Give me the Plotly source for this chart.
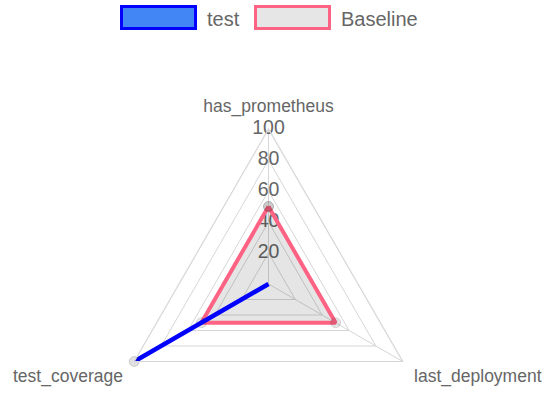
import plotly.graph_objects as go

# ---- data ----
categories = ["has_prometheus", "last_deployment", "test_coverage"]
test_values = [0, 0, 100]
baseline_values = [50, 50, 50]
series_names = ["test", "Baseline"]
tick_values = [20, 40, 60, 80, 100]
tick_labels = ["20", "40", "60", "80", "100"]

W, H = 548, 440
FONT = "Liberation Sans, Arial, Helvetica, sans-serif"
GRID = "#d6d6d6"
TEXT = "#666666"


def closed(seq):
    return list(seq) + [seq[0]]


def px(x, y):
    return x / W, 1 - y / H


fig = go.Figure()

# tick labels drawn on the top spoke (under data, as in the original)
fig.add_trace(go.Scatterpolar(
    r=tick_values, theta=[categories[0]] * len(tick_values),
    text=tick_labels, mode="text", textposition="middle center",
    textfont=dict(size=19.5, color=TEXT, family=FONT),
    hoverinfo="skip", showlegend=False, cliponaxis=False,
))

fig.add_trace(go.Scatterpolar(
    r=closed(baseline_values), theta=closed(categories),
    name=series_names[1], mode="lines+markers", fill="toself",
    fillcolor="rgba(0,0,0,0.1)",
    line=dict(color="rgb(255,99,132)", width=4),
    marker=dict(size=10, color="rgba(0,0,0,0.1)", line=dict(color="rgba(0,0,0,0.12)", width=1)),
    showlegend=False, cliponaxis=False,
))

fig.add_trace(go.Scatterpolar(
    r=closed(test_values), theta=closed(categories),
    name=series_names[0], mode="lines+markers", fill="toself",
    fillcolor="rgba(66,133,244,0.6)",
    line=dict(color="#0000ff", width=4.5),
    marker=dict(size=10, color="rgba(0,0,0,0.12)", line=dict(color="rgba(0,0,0,0.15)", width=1)),
    showlegend=False, cliponaxis=False,
))

# custom legend (large Chart.js style boxes)
legend_items = [
    (series_names[0], "rgb(66,133,244)", "#0000ff", 120, 197),
    (series_names[1], "#e6e6e6", "rgb(255,99,132)", 254, 331),
]
shapes, annotations = [], []
for name, fillc, linec, x0, x1 in legend_items:
    a = px(x0 + 1.5, 6.5)
    b = px(x1 - 1.5, 28.5)
    shapes.append(dict(type="rect", xref="paper", yref="paper",
                       x0=a[0], y0=a[1], x1=b[0], y1=b[1],
                       fillcolor=fillc, line=dict(color=linec, width=3)))
    t = px(x1 + 8, 19.5)
    annotations.append(dict(text=name, xref="paper", yref="paper", x=t[0], y=t[1],
                            xanchor="left", yanchor="middle", showarrow=False,
                            font=dict(size=20, color=TEXT, family=FONT)))

cx, cy, R = 268.5, 284, 155
dx0, dy0 = px(cx - R, cy - R)
dx1, dy1 = px(cx + R, cy + R)

fig.update_layout(
    width=W, height=H,
    margin=dict(l=0, r=0, t=0, b=0),
    paper_bgcolor="white",
    font=dict(family=FONT, color=TEXT),
    showlegend=False,
    shapes=shapes, annotations=annotations,
    polar=dict(
        domain=dict(x=[dx0, dx1], y=[max(dy1, 0), dy0]),
        gridshape="linear",
        bgcolor="rgba(0,0,0,0)",
        radialaxis=dict(range=[0, 100], tickvals=tick_values, showticklabels=False,
                        ticks="", showline=False, gridcolor=GRID, gridwidth=1.2, angle=90),
        angularaxis=dict(direction="clockwise", rotation=90, linecolor=GRID, linewidth=1.2,
                         gridcolor=GRID, gridwidth=1.2, ticks="outside", ticklen=9,
                         tickcolor="rgba(0,0,0,0)",
                         tickfont=dict(size=17.5, color=TEXT, family=FONT)),
    ),
)

fig.write_html("out.html", config={"displayModeBar": False},
               post_script="document.body.style.margin='0';document.body.style.overflow='hidden';")
